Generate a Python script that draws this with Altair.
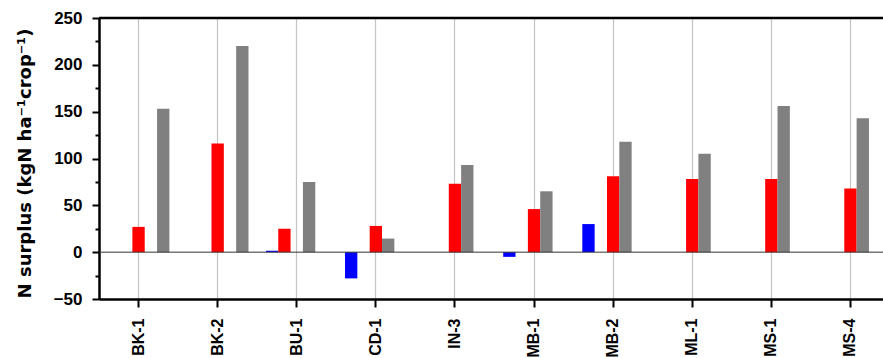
import altair as alt
import pandas as pd

# Sites along the x axis
sites = ["BK-1", "BK-2", "BU-1", "CD-1", "IN-3", "MB-1", "MB-2", "ML-1", "MS-1", "MS-4"]

# Bar slots within each site group (left to right) and their colours
slots = ["s1", "s2", "s3", "s4", "s5"]
slot_colors = ["#0000FF", "#FF0000", "#FF0000", "#808080", "#808080"]

# N surplus values (kgN/ha/crop) per slot; None means no bar
s1_vals = [None, None, 1.5, -28, None, -5, 30, None, None, None]
s2_vals = [None, None, 25, None, None, None, None, None, None, None]
s3_vals = [27, 116, None, 28, 73, 46, 81, 78, 78, 68]
s4_vals = [None, None, 75, 14.5, 93, 65, 118, 105, 156, 143]
s5_vals = [153, 220, None, None, None, None, None, None, None, None]

major_ticks = [-50, 0, 50, 100, 150, 200, 250]
minor_ticks = [-25, 25, 75, 125, 175, 225]
y_min, y_max = -50, 250

rows = []
for slot, vals in zip(slots, [s1_vals, s2_vals, s3_vals, s4_vals, s5_vals]):
    for site, v in zip(sites, vals):
        if v is not None:
            rows.append({"site": site, "slot": slot, "value": v})
df = pd.DataFrame(rows)

label_font = "Liberation Sans"
y_scale = alt.Scale(domain=[y_min, y_max], nice=False, zero=False)

bars = alt.Chart(df).mark_bar().encode(
    x=alt.X(
        "site:N",
        sort=sites,
        title=None,
        scale=alt.Scale(domain=sites, range=[0, 791], paddingInner=0.22, paddingOuter=0.11),
        axis=alt.Axis(
            labelAngle=-90,
            labelFont=label_font,
            labelFontWeight="bold",
            labelFontSize=16,
            labelColor="black",
            labelPadding=11,
            tickSize=8,
            tickWidth=2,
            tickColor="black",
            domainColor="black",
            domainWidth=2.5,
            grid=True,
            gridColor="#c4c4c4",
            gridWidth=1.2,
            bandPosition=0.5,
        ),
    ),
    xOffset=alt.XOffset(
        "slot:N",
        sort=slots,
        scale=alt.Scale(domain=slots, paddingInner=0, paddingOuter=0),
    ),
    y=alt.Y(
        "value:Q",
        scale=y_scale,
        title="N surplus (kgN ha⁻¹crop⁻¹)",
        axis=alt.Axis(
            values=major_ticks,
            labelFont=label_font,
            labelFontWeight="bold",
            labelFontSize=17,
            labelColor="black",
            labelPadding=10,
            tickSize=7,
            tickWidth=2,
            tickColor="black",
            domainColor="black",
            domainWidth=2.5,
            grid=False,
            orient="left",
            titleFont="DejaVu Sans",
            titleFontWeight="bold",
            titleFontSize=18,
            titleColor="black",
            titleAngle=-90,
            titleAlign="center",
            titleBaseline="alphabetic",
            titleX=-69,
            titleY=145,
        ),
    ),
    color=alt.Color("slot:N", scale=alt.Scale(domain=slots, range=slot_colors), legend=None),
)

# Short unlabelled ticks halfway between the labelled ones
minor = alt.Chart(pd.DataFrame({"v": [0]})).mark_rule(opacity=0).encode(
    y=alt.Y(
        "v:Q",
        scale=y_scale,
        axis=alt.Axis(
            values=minor_ticks,
            orient="left",
            labels=False,
            domain=False,
            grid=False,
            title=None,
            tickSize=4,
            tickWidth=2,
            tickColor="black",
        ),
    )
)

zero_line = alt.Chart(pd.DataFrame({"v": [0]})).mark_rule(color="#333333", strokeWidth=1).encode(
    y=alt.Y("v:Q", axis=None)
)

top_line = alt.Chart(pd.DataFrame({"v": [y_max]})).mark_rule(color="black", strokeWidth=2.5).encode(
    y=alt.Y("v:Q", axis=None)
)

chart = (
    alt.layer(bars, minor, zero_line, top_line)
    .resolve_axis(y="independent")
    .properties(
        width=784,
        height=281,
        autosize=alt.AutoSizeParams(type="none"),
        padding={"left": 99, "top": 18, "right": 0, "bottom": 59},
        background="white",
    )
    .configure_view(strokeWidth=0)
)

chart.save("out.html", embed_options={"renderer": "svg", "actions": False})
